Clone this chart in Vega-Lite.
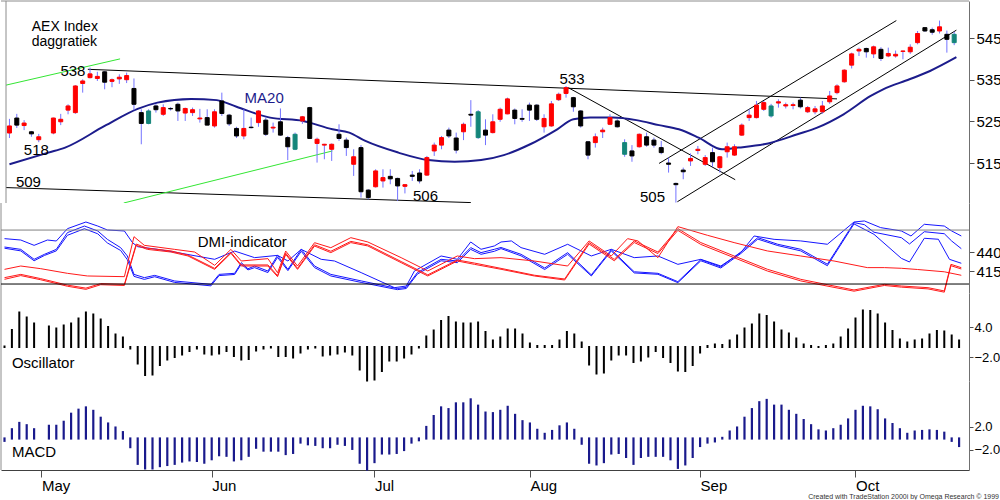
{
  "$schema": "https://vega.github.io/schema/vega-lite/v6.json",
  "description": "AEX Index daily candles with MA20, DMI, oscillator and MACD panels.",
  "padding": 0,
  "background": "white",
  "datasets": {
    "candles": [
      {"d":0,"o":522.2,"h":525.6,"l":521.0,"c":523.9,"dir":"up"},
      {"d":1,"o":525.8,"h":526.8,"l":523.4,"c":524.1,"dir":"down"},
      {"d":2,"o":524.0,"h":525.3,"l":522.9,"c":524.6,"dir":"up"},
      {"d":3,"o":522.5,"h":522.7,"l":521.3,"c":522.0,"dir":"down"},
      {"d":4,"o":520.6,"h":522.0,"l":520.0,"c":521.3,"dir":"up"},
      {"d":6,"o":522.2,"h":525.9,"l":521.9,"c":525.8,"dir":"up"},
      {"d":7,"o":524.9,"h":526.8,"l":524.1,"c":525.5,"dir":"up"},
      {"d":8,"o":527.7,"h":529.1,"l":526.7,"c":528.7,"dir":"up"},
      {"d":9,"o":527.1,"h":533.7,"l":526.8,"c":533.5,"dir":"up"},
      {"d":10,"o":534.1,"h":535.1,"l":531.9,"c":534.7,"dir":"up"},
      {"d":11,"o":535.5,"h":537.9,"l":535.3,"c":536.4,"dir":"up"},
      {"d":12,"o":535.3,"h":536.9,"l":534.7,"c":535.8,"dir":"up"},
      {"d":13,"o":536.9,"h":537.1,"l":532.7,"c":534.4,"dir":"down"},
      {"d":14,"o":534.6,"h":535.3,"l":533.2,"c":535.0,"dir":"up"},
      {"d":15,"o":535.2,"h":536.3,"l":534.0,"c":535.6,"dir":"up"},
      {"d":16,"o":535.0,"h":536.7,"l":534.2,"c":536.0,"dir":"up"},
      {"d":17,"o":532.9,"h":535.3,"l":527.7,"c":529.1,"dir":"down"},
      {"d":18,"o":527.1,"h":527.9,"l":519.5,"c":524.5,"dir":"down"},
      {"d":19,"o":524.5,"h":527.9,"l":524.3,"c":527.5,"dir":"sig"},
      {"d":20,"o":528.7,"h":529.1,"l":527.1,"c":527.8,"dir":"down"},
      {"d":21,"o":526.7,"h":529.1,"l":526.3,"c":528.3,"dir":"up"},
      {"d":22,"o":528.1,"h":528.4,"l":527.6,"c":528.0,"dir":"down"},
      {"d":23,"o":529.1,"h":529.5,"l":525.1,"c":527.5,"dir":"down"},
      {"d":24,"o":527.0,"h":528.3,"l":525.1,"c":528.1,"dir":"up"},
      {"d":25,"o":527.1,"h":528.3,"l":526.3,"c":527.8,"dir":"up"},
      {"d":26,"o":525.6,"h":528.0,"l":524.7,"c":525.8,"dir":"up"},
      {"d":27,"o":525.9,"h":527.9,"l":524.1,"c":524.1,"dir":"down"},
      {"d":28,"o":523.9,"h":527.9,"l":523.5,"c":527.3,"dir":"up"},
      {"d":29,"o":529.9,"h":531.9,"l":526.3,"c":526.9,"dir":"down"},
      {"d":30,"o":526.5,"h":526.8,"l":523.9,"c":524.4,"dir":"down"},
      {"d":31,"o":523.3,"h":523.7,"l":521.0,"c":521.5,"dir":"down"},
      {"d":32,"o":521.5,"h":527.9,"l":520.7,"c":523.3,"dir":"up"},
      {"d":33,"o":523.6,"h":525.9,"l":523.3,"c":523.5,"dir":"down"},
      {"d":34,"o":524.7,"h":527.7,"l":523.7,"c":527.5,"dir":"up"},
      {"d":35,"o":525.3,"h":525.9,"l":521.5,"c":521.9,"dir":"down"},
      {"d":36,"o":523.4,"h":524.7,"l":522.3,"c":523.6,"dir":"up"},
      {"d":37,"o":524.9,"h":528.1,"l":521.5,"c":521.7,"dir":"down"},
      {"d":38,"o":521.1,"h":521.5,"l":515.7,"c":518.9,"dir":"down"},
      {"d":39,"o":518.3,"h":522.3,"l":518.1,"c":521.9,"dir":"sig"},
      {"d":40,"o":525.1,"h":526.3,"l":524.4,"c":526.1,"dir":"up"},
      {"d":41,"o":528.3,"h":528.5,"l":520.8,"c":520.9,"dir":"down"},
      {"d":42,"o":519.7,"h":521.1,"l":515.1,"c":520.7,"dir":"up"},
      {"d":43,"o":519.3,"h":519.6,"l":515.9,"c":519.5,"dir":"up"},
      {"d":44,"o":518.3,"h":519.7,"l":515.5,"c":519.5,"dir":"up"},
      {"d":45,"o":521.9,"h":524.3,"l":520.3,"c":520.9,"dir":"down"},
      {"d":46,"o":520.5,"h":521.1,"l":516.7,"c":518.7,"dir":"down"},
      {"d":47,"o":514.7,"h":518.3,"l":511.9,"c":516.5,"dir":"up"},
      {"d":48,"o":518.7,"h":519.3,"l":506.7,"c":508.1,"dir":"down"},
      {"d":49,"o":508.5,"h":508.7,"l":506.3,"c":506.7,"dir":"down"},
      {"d":50,"o":509.3,"h":513.5,"l":509.1,"c":513.1,"dir":"up"},
      {"d":51,"o":510.7,"h":513.5,"l":509.1,"c":511.5,"dir":"up"},
      {"d":52,"o":511.8,"h":513.5,"l":509.9,"c":511.2,"dir":"down"},
      {"d":53,"o":511.3,"h":511.5,"l":505.9,"c":509.5,"dir":"down"},
      {"d":54,"o":509.4,"h":509.9,"l":507.7,"c":509.8,"dir":"up"},
      {"d":55,"o":512.1,"h":513.1,"l":510.7,"c":511.8,"dir":"down"},
      {"d":56,"o":512.6,"h":513.5,"l":510.1,"c":510.7,"dir":"down"},
      {"d":57,"o":512.1,"h":516.7,"l":511.9,"c":516.3,"dir":"up"},
      {"d":58,"o":517.9,"h":519.9,"l":516.7,"c":519.3,"dir":"up"},
      {"d":59,"o":519.3,"h":521.5,"l":518.3,"c":521.1,"dir":"up"},
      {"d":60,"o":522.9,"h":523.5,"l":521.0,"c":521.5,"dir":"down"},
      {"d":61,"o":521.0,"h":522.3,"l":517.3,"c":518.1,"dir":"down"},
      {"d":62,"o":522.5,"h":524.7,"l":520.5,"c":524.3,"dir":"up"},
      {"d":63,"o":526.7,"h":530.1,"l":523.7,"c":526.5,"dir":"down"},
      {"d":64,"o":521.1,"h":527.7,"l":520.8,"c":527.3,"dir":"sig"},
      {"d":65,"o":522.9,"h":525.5,"l":519.3,"c":521.7,"dir":"down"},
      {"d":66,"o":522.3,"h":526.7,"l":522.1,"c":524.9,"dir":"up"},
      {"d":67,"o":525.5,"h":528.3,"l":524.9,"c":527.9,"dir":"up"},
      {"d":68,"o":526.8,"h":530.7,"l":526.7,"c":530.4,"dir":"up"},
      {"d":69,"o":527.7,"h":528.1,"l":524.3,"c":525.7,"dir":"down"},
      {"d":70,"o":525.7,"h":527.9,"l":524.9,"c":525.5,"dir":"down"},
      {"d":71,"o":528.9,"h":529.5,"l":525.1,"c":527.7,"dir":"down"},
      {"d":72,"o":528.9,"h":529.1,"l":525.1,"c":525.5,"dir":"down"},
      {"d":73,"o":523.7,"h":526.7,"l":522.3,"c":525.7,"dir":"up"},
      {"d":74,"o":523.9,"h":529.9,"l":523.7,"c":529.2,"dir":"up"},
      {"d":75,"o":530.2,"h":531.9,"l":529.9,"c":531.5,"dir":"up"},
      {"d":76,"o":531.7,"h":533.5,"l":530.7,"c":533.1,"dir":"up"},
      {"d":77,"o":530.7,"h":530.9,"l":527.3,"c":528.5,"dir":"down"},
      {"d":78,"o":527.5,"h":527.7,"l":523.5,"c":523.9,"dir":"down"},
      {"d":79,"o":520.1,"h":520.3,"l":515.9,"c":516.9,"dir":"down"},
      {"d":80,"o":519.9,"h":522.1,"l":518.7,"c":521.3,"dir":"up"},
      {"d":81,"o":522.5,"h":523.5,"l":521.0,"c":522.9,"dir":"up"},
      {"d":82,"o":524.3,"h":526.7,"l":524.1,"c":525.9,"dir":"up"},
      {"d":83,"o":525.1,"h":525.5,"l":523.5,"c":523.7,"dir":"down"},
      {"d":84,"o":517.1,"h":520.7,"l":516.5,"c":519.9,"dir":"sig"},
      {"d":85,"o":517.9,"h":519.3,"l":515.3,"c":516.7,"dir":"down"},
      {"d":86,"o":518.9,"h":522.1,"l":518.7,"c":521.9,"dir":"up"},
      {"d":87,"o":521.3,"h":522.3,"l":518.9,"c":519.3,"dir":"down"},
      {"d":88,"o":520.5,"h":521.1,"l":518.7,"c":519.3,"dir":"down"},
      {"d":89,"o":518.7,"h":520.3,"l":517.1,"c":517.5,"dir":"down"},
      {"d":90,"o":515.0,"h":516.3,"l":512.7,"c":514.7,"dir":"down"},
      {"d":91,"o":510.1,"h":510.3,"l":505.5,"c":509.8,"dir":"down"},
      {"d":92,"o":513.3,"h":513.9,"l":511.1,"c":512.9,"dir":"down"},
      {"d":93,"o":515.5,"h":517.3,"l":514.3,"c":516.1,"dir":"up"},
      {"d":94,"o":518.0,"h":519.1,"l":517.1,"c":518.3,"dir":"up"},
      {"d":95,"o":514.7,"h":516.9,"l":514.3,"c":516.3,"dir":"up"},
      {"d":96,"o":517.5,"h":518.7,"l":514.1,"c":515.3,"dir":"down"},
      {"d":97,"o":513.9,"h":516.7,"l":512.7,"c":516.5,"dir":"up"},
      {"d":98,"o":517.7,"h":519.9,"l":516.3,"c":518.9,"dir":"up"},
      {"d":99,"o":516.9,"h":519.5,"l":516.7,"c":518.9,"dir":"up"},
      {"d":100,"o":521.7,"h":524.5,"l":521.5,"c":524.1,"dir":"up"},
      {"d":101,"o":525.9,"h":527.9,"l":525.1,"c":526.5,"dir":"up"},
      {"d":102,"o":525.9,"h":529.9,"l":525.7,"c":528.9,"dir":"up"},
      {"d":103,"o":527.9,"h":529.9,"l":527.5,"c":529.5,"dir":"up"},
      {"d":104,"o":526.3,"h":529.2,"l":525.9,"c":528.7,"dir":"sig"},
      {"d":105,"o":529.4,"h":530.3,"l":528.3,"c":529.7,"dir":"up"},
      {"d":106,"o":528.7,"h":529.5,"l":528.1,"c":529.0,"dir":"up"},
      {"d":107,"o":528.8,"h":529.5,"l":527.9,"c":529.0,"dir":"up"},
      {"d":108,"o":530.1,"h":530.7,"l":528.1,"c":528.5,"dir":"down"},
      {"d":109,"o":527.3,"h":528.7,"l":527.0,"c":528.3,"dir":"up"},
      {"d":110,"o":527.3,"h":528.7,"l":526.7,"c":528.0,"dir":"up"},
      {"d":111,"o":527.3,"h":529.9,"l":526.8,"c":528.7,"dir":"up"},
      {"d":112,"o":529.7,"h":532.3,"l":529.2,"c":531.1,"dir":"up"},
      {"d":113,"o":531.9,"h":533.9,"l":531.5,"c":533.5,"dir":"up"},
      {"d":114,"o":534.5,"h":537.5,"l":534.3,"c":537.3,"dir":"up"},
      {"d":115,"o":538.5,"h":541.5,"l":537.7,"c":541.2,"dir":"up"},
      {"d":116,"o":541.9,"h":542.7,"l":540.7,"c":542.3,"dir":"up"},
      {"d":117,"o":542.5,"h":542.7,"l":540.3,"c":541.7,"dir":"down"},
      {"d":118,"o":541.2,"h":543.2,"l":540.2,"c":542.9,"dir":"up"},
      {"d":119,"o":542.3,"h":542.8,"l":539.5,"c":540.1,"dir":"down"},
      {"d":120,"o":540.7,"h":542.7,"l":540.4,"c":541.3,"dir":"up"},
      {"d":121,"o":540.7,"h":542.0,"l":540.3,"c":541.1,"dir":"up"},
      {"d":122,"o":541.8,"h":542.0,"l":539.9,"c":541.9,"dir":"up"},
      {"d":123,"o":541.7,"h":543.5,"l":541.2,"c":542.8,"dir":"up"},
      {"d":124,"o":543.9,"h":546.7,"l":543.5,"c":546.1,"dir":"up"},
      {"d":125,"o":547.5,"h":547.6,"l":546.5,"c":546.7,"dir":"down"},
      {"d":126,"o":547.0,"h":547.5,"l":545.8,"c":546.4,"dir":"down"},
      {"d":127,"o":546.7,"h":549.2,"l":546.1,"c":547.7,"dir":"up"},
      {"d":128,"o":545.9,"h":546.8,"l":541.5,"c":544.7,"dir":"down"},
      {"d":129,"o":543.9,"h":546.5,"l":543.3,"c":545.9,"dir":"sig"}
    ],
    "ma": [
      {"d":0,"p":514.7},{"d":5.3,"p":517.5},{"d":7.6,"p":518.7},{"d":13.0,"p":523.9},
      {"d":17.5,"p":528.0},{"d":20.2,"p":529.5},{"d":24.8,"p":530.4},{"d":28.3,"p":530.1},
      {"d":31.0,"p":528.5},{"d":35.6,"p":525.9},{"d":40.1,"p":525.1},{"d":44.1,"p":523.1},
      {"d":46.4,"p":522.3},{"d":48.6,"p":520.3},{"d":53.1,"p":517.5},{"d":57.2,"p":515.7},
      {"d":60.8,"p":515.3},{"d":64.4,"p":515.7},{"d":67.5,"p":516.9},{"d":71.1,"p":519.5},
      {"d":74.8,"p":523.1},{"d":77.0,"p":525.5},{"d":79.3,"p":525.9},{"d":82.4,"p":525.9},
      {"d":85.6,"p":525.3},{"d":88.7,"p":524.1},{"d":91.4,"p":523.1},{"d":94.1,"p":521.1},
      {"d":97.3,"p":518.3},{"d":99.5,"p":518.7},{"d":103.6,"p":519.7},{"d":107.6,"p":521.9},
      {"d":110.3,"p":523.5},{"d":113.9,"p":526.7},{"d":117.6,"p":531.1},{"d":119.3,"p":532.7},
      {"d":122.9,"p":535.1},{"d":125.7,"p":537.1},{"d":129.3,"p":540.4}
    ],
    "trend": [
      {"id":"res","kind":"trend","d":10.7,"p":537.5},{"id":"res","kind":"trend","d":113.0,"p":530.4},
      {"id":"sup","kind":"trend","d":-0.47,"p":509.1},{"id":"sup","kind":"trend","d":63.0,"p":505.5},
      {"id":"g1","kind":"fan","d":-0.47,"p":533.7},{"id":"g1","kind":"fan","d":15.1,"p":540.0},
      {"id":"g2","kind":"fan","d":15.6,"p":505.4},{"id":"g2","kind":"fan","d":44.1,"p":517.9},
      {"id":"down","kind":"trend","d":76.3,"p":533.1},{"id":"down","kind":"trend","d":99.1,"p":511.0},
      {"id":"chLow","kind":"trend","d":91.2,"p":505.7},{"id":"chLow","kind":"trend","d":129.3,"p":546.9},
      {"id":"chUp","kind":"trend","d":88.7,"p":514.9},{"id":"chUp","kind":"trend","d":121.1,"p":549.2}
    ],
    "notes": [
      {"d":3.04,"p":546.7,"t":"AEX Index","fs":"head"},
      {"d":3.04,"p":543.1,"t":"daggratiek","fs":"head"},
      {"d":6.96,"p":535.9,"t":"538","fs":"note"},
      {"d":1.96,"p":517.0,"t":"518","fs":"note"},
      {"d":0.88,"p":509.3,"t":"509","fs":"note"},
      {"d":32.1,"p":529.3,"t":"MA20","fs":"note"},
      {"d":55.1,"p":505.9,"t":"506","fs":"note"},
      {"d":75.1,"p":534.0,"t":"533","fs":"note"},
      {"d":86.1,"p":505.6,"t":"505","fs":"note"}
    ],
    "dmi": [
      {"s":"b1","d":0,"v":457.6},{"s":"b1","d":2.2,"v":455.8},{"s":"b1","d":4,"v":448.8},{"s":"b1","d":5.8,"v":455.8},
      {"s":"b1","d":7,"v":454.5},{"s":"b1","d":8.5,"v":470.7},{"s":"b1","d":11,"v":479.5},{"s":"b1","d":12.6,"v":474.2},
      {"s":"b1","d":13.9,"v":469.0},{"s":"b1","d":16.2,"v":467.7},{"s":"b1","d":17.3,"v":452.3},{"s":"b1","d":18,"v":447.0},
      {"s":"b1","d":20.7,"v":443.5},{"s":"b1","d":23.4,"v":439.2},{"s":"b1","d":28.4,"v":430.4},{"s":"b1","d":31.1,"v":441.3},
      {"s":"b1","d":33.8,"v":432.6},{"s":"b1","d":36.9,"v":435.6},{"s":"b1","d":38.3,"v":428.2},{"s":"b1","d":40.1,"v":443.5},
      {"s":"b1","d":42.8,"v":430.4},{"s":"b1","d":44.6,"v":428.2},{"s":"b1","d":48.2,"v":412.9},{"s":"b1","d":52.7,"v":393.1},
      {"s":"b1","d":54.3,"v":395.3},{"s":"b1","d":55.4,"v":415.1},{"s":"b1","d":59,"v":434.8},{"s":"b1","d":61.2,"v":430.4},
      {"s":"b1","d":63,"v":453.2},{"s":"b1","d":64.4,"v":443.6},{"s":"b1","d":66.2,"v":448.0},{"s":"b1","d":67.1,"v":453.2},
      {"s":"b1","d":68.5,"v":454.6},{"s":"b1","d":69.8,"v":445.8},{"s":"b1","d":73,"v":437.0},{"s":"b1","d":76.1,"v":450.2},
      {"s":"b1","d":79.3,"v":434.8},{"s":"b1","d":82,"v":443.6},{"s":"b1","d":85.1,"v":432.6},{"s":"b1","d":88.3,"v":434.8},
      {"s":"b1","d":91,"v":423.8},{"s":"b1","d":94.1,"v":430.4},{"s":"b1","d":96.8,"v":421.6},{"s":"b1","d":99.5,"v":439.2},
      {"s":"b1","d":101.3,"v":461.1},{"s":"b1","d":104,"v":456.7},{"s":"b1","d":107.6,"v":454.6},{"s":"b1","d":111.2,"v":450.2},
      {"s":"b1","d":114.8,"v":479.5},{"s":"b1","d":116.2,"v":480.9},{"s":"b1","d":118.4,"v":472.1},{"s":"b1","d":121.2,"v":467.7},
      {"s":"b1","d":122.5,"v":461.1},{"s":"b1","d":124.3,"v":476.5},{"s":"b1","d":127,"v":474.2},{"s":"b1","d":128,"v":467.7},
      {"s":"b1","d":129.3,"v":461.1},

      {"s":"b2","d":0,"v":446.6},{"s":"b2","d":2.2,"v":443.5},{"s":"b2","d":4,"v":430.4},{"s":"b2","d":5.4,"v":437.0},
      {"s":"b2","d":7,"v":443.5},{"s":"b2","d":8.5,"v":465.5},{"s":"b2","d":10.8,"v":474.2},{"s":"b2","d":12.6,"v":467.7},
      {"s":"b2","d":13.9,"v":456.7},{"s":"b2","d":15.7,"v":445.7},{"s":"b2","d":16.6,"v":434.8},{"s":"b2","d":17.5,"v":410.6},
      {"s":"b2","d":18.9,"v":406.3},{"s":"b2","d":20.3,"v":409.3},{"s":"b2","d":23,"v":401.9},{"s":"b2","d":27.9,"v":397.5},
      {"s":"b2","d":29,"v":410.6},{"s":"b2","d":31.1,"v":412.0},{"s":"b2","d":32,"v":426.0},{"s":"b2","d":32.9,"v":418.0},
      {"s":"b2","d":33.8,"v":421.6},{"s":"b2","d":35.6,"v":415.0},{"s":"b2","d":36.9,"v":435.6},{"s":"b2","d":38.3,"v":417.2},
      {"s":"b2","d":40.1,"v":443.5},{"s":"b2","d":41.9,"v":421.6},{"s":"b2","d":44.1,"v":410.6},{"s":"b2","d":48.2,"v":402.0},
      {"s":"b2","d":53.1,"v":392.0},{"s":"b2","d":54.3,"v":393.5},{"s":"b2","d":55.8,"v":413.0},{"s":"b2","d":59,"v":430.4},
      {"s":"b2","d":61.2,"v":428.2},{"s":"b2","d":63,"v":445.8},{"s":"b2","d":64.4,"v":439.2},{"s":"b2","d":66.2,"v":443.6},
      {"s":"b2","d":67.1,"v":446.0},{"s":"b2","d":69.8,"v":437.0},{"s":"b2","d":73,"v":419.0},{"s":"b2","d":76.1,"v":439.2},
      {"s":"b2","d":79.3,"v":410.0},{"s":"b2","d":82,"v":443.0},{"s":"b2","d":85.1,"v":414.0},{"s":"b2","d":88.3,"v":412.0},
      {"s":"b2","d":91,"v":401.0},{"s":"b2","d":94.1,"v":430.0},{"s":"b2","d":96.8,"v":420.5},{"s":"b2","d":99.5,"v":440.0},
      {"s":"b2","d":101.8,"v":458.9},{"s":"b2","d":104.5,"v":450.2},{"s":"b2","d":107.6,"v":443.6},{"s":"b2","d":111.2,"v":424.0},
      {"s":"b2","d":114.8,"v":478.7},{"s":"b2","d":116.2,"v":476.0},{"s":"b2","d":117.5,"v":466.0},{"s":"b2","d":121.2,"v":458.9},
      {"s":"b2","d":122.3,"v":450.6},{"s":"b2","d":124.3,"v":466.7},{"s":"b2","d":127,"v":464.1},{"s":"b2","d":128,"v":454.5},
      {"s":"b2","d":129.3,"v":444.4},

      {"s":"b3","d":0,"v":445.0},{"s":"b3","d":2.2,"v":441.5},{"s":"b3","d":4,"v":428.5},{"s":"b3","d":5.4,"v":435.5},
      {"s":"b3","d":7,"v":441.5},{"s":"b3","d":8.5,"v":462.0},{"s":"b3","d":10.8,"v":470.7},{"s":"b3","d":12.6,"v":464.0},
      {"s":"b3","d":13.9,"v":452.0},{"s":"b3","d":15.7,"v":442.0},{"s":"b3","d":16.6,"v":430.0},{"s":"b3","d":17.5,"v":408.0},
      {"s":"b3","d":18.9,"v":404.0},{"s":"b3","d":20.3,"v":407.5},{"s":"b3","d":23,"v":400.0},{"s":"b3","d":27.9,"v":395.5},
      {"s":"b3","d":29,"v":409.0},{"s":"b3","d":31.1,"v":410.5},{"s":"b3","d":32,"v":424.0},{"s":"b3","d":32.9,"v":416.5},
      {"s":"b3","d":33.8,"v":419.5},{"s":"b3","d":35.6,"v":413.0},{"s":"b3","d":36.9,"v":433.0},{"s":"b3","d":38.3,"v":415.5},
      {"s":"b3","d":40.1,"v":441.0},{"s":"b3","d":41.9,"v":419.5},{"s":"b3","d":44.1,"v":408.5},{"s":"b3","d":48.2,"v":400.0},
      {"s":"b3","d":53.1,"v":390.5},{"s":"b3","d":54.3,"v":392.0},{"s":"b3","d":55.8,"v":411.0},{"s":"b3","d":59,"v":428.5},
      {"s":"b3","d":61.2,"v":426.0},{"s":"b3","d":63,"v":443.5},{"s":"b3","d":64.4,"v":437.0},{"s":"b3","d":66.2,"v":441.0},
      {"s":"b3","d":67.1,"v":444.5},{"s":"b3","d":69.8,"v":435.0},{"s":"b3","d":73,"v":417.0},{"s":"b3","d":76.1,"v":437.0},
      {"s":"b3","d":79.3,"v":408.5},{"s":"b3","d":82,"v":441.5},{"s":"b3","d":85.1,"v":412.5},{"s":"b3","d":88.3,"v":410.7},
      {"s":"b3","d":91,"v":399.7},{"s":"b3","d":94.1,"v":428.5},{"s":"b3","d":96.8,"v":419.0},{"s":"b3","d":99.5,"v":438.0},
      {"s":"b3","d":101.8,"v":457.0},{"s":"b3","d":104.5,"v":448.5},{"s":"b3","d":107.6,"v":441.5},{"s":"b3","d":111.2,"v":422.0},
      {"s":"b3","d":114.8,"v":477.0},{"s":"b3","d":117.5,"v":463.3},{"s":"b3","d":121.2,"v":431.7},{"s":"b3","d":122.3,"v":426.9},
      {"s":"b3","d":124.3,"v":458.1},{"s":"b3","d":126.2,"v":456.8},{"s":"b3","d":127.7,"v":430.4},{"s":"b3","d":129.3,"v":425.2},

      {"s":"r1","d":0,"v":417.2},{"s":"r1","d":2.2,"v":421.6},{"s":"r1","d":4.9,"v":418.1},{"s":"r1","d":8.5,"v":412.0},
      {"s":"r1","d":11.2,"v":408.5},{"s":"r1","d":16.2,"v":407.6},{"s":"r1","d":17.5,"v":460.2},{"s":"r1","d":18.9,"v":448.8},
      {"s":"r1","d":23,"v":443.5},{"s":"r1","d":25.7,"v":440.0},{"s":"r1","d":28.4,"v":422.5},{"s":"r1","d":30.6,"v":443.5},
      {"s":"r1","d":32,"v":428.2},{"s":"r1","d":35.6,"v":431.3},{"s":"r1","d":36.9,"v":412.8},{"s":"r1","d":38,"v":441.3},
      {"s":"r1","d":39.6,"v":421.6},{"s":"r1","d":41.9,"v":452.3},{"s":"r1","d":44.1,"v":445.7},{"s":"r1","d":46.8,"v":458.9},
      {"s":"r1","d":49.1,"v":453.2},{"s":"r1","d":53.6,"v":432.6},{"s":"r1","d":57.2,"v":415.1},{"s":"r1","d":61.2,"v":434.8},
      {"s":"r1","d":63.5,"v":431.3},{"s":"r1","d":67.1,"v":432.6},{"s":"r1","d":71.6,"v":428.2},{"s":"r1","d":76.1,"v":421.6},
      {"s":"r1","d":79,"v":454.6},{"s":"r1","d":82,"v":434.8},{"s":"r1","d":84.2,"v":457.6},{"s":"r1","d":85.6,"v":454.6},
      {"s":"r1","d":88.3,"v":432.6},{"s":"r1","d":91,"v":473.4},{"s":"r1","d":95,"v":462.0},{"s":"r1","d":98.6,"v":452.4},
      {"s":"r1","d":103.1,"v":441.4},{"s":"r1","d":107.6,"v":434.8},{"s":"r1","d":112.1,"v":428.2},{"s":"r1","d":116.6,"v":419.5},
      {"s":"r1","d":118.9,"v":419.5},{"s":"r1","d":121.2,"v":418.6},{"s":"r1","d":123.4,"v":417.0},{"s":"r1","d":127,"v":414.0},
      {"s":"r1","d":129.3,"v":409.4},

      {"s":"r2","d":0,"v":406.3},{"s":"r2","d":2.2,"v":410.6},{"s":"r2","d":4.9,"v":405.0},{"s":"r2","d":8.5,"v":396.5},
      {"s":"r2","d":11,"v":392.5},{"s":"r2","d":13,"v":398.5},{"s":"r2","d":16.2,"v":397.5},{"s":"r2","d":17.8,"v":450.5},
      {"s":"r2","d":19.3,"v":445.0},{"s":"r2","d":22.5,"v":441.5},{"s":"r2","d":24.8,"v":436.0},{"s":"r2","d":28.4,"v":418.5},
      {"s":"r2","d":30.6,"v":439.5},{"s":"r2","d":32,"v":423.0},{"s":"r2","d":35.6,"v":423.0},{"s":"r2","d":36.9,"v":409.0},
      {"s":"r2","d":38,"v":438.5},{"s":"r2","d":39.6,"v":418.5},{"s":"r2","d":41.9,"v":449.5},{"s":"r2","d":44.1,"v":441.0},
      {"s":"r2","d":46.8,"v":454.0},{"s":"r2","d":49.1,"v":449.5},{"s":"r2","d":53.6,"v":427.5},{"s":"r2","d":57.2,"v":410.0},
      {"s":"r2","d":61.2,"v":429.5},{"s":"r2","d":63.5,"v":425.5},{"s":"r2","d":67.1,"v":418.5},{"s":"r2","d":71.6,"v":409.5},
      {"s":"r2","d":75.7,"v":404.5},{"s":"r2","d":79,"v":452.4},{"s":"r2","d":82.4,"v":430.4},{"s":"r2","d":85.1,"v":454.6},
      {"s":"r2","d":88.3,"v":440.0},{"s":"r2","d":91,"v":470.8},{"s":"r2","d":94.1,"v":452.4},{"s":"r2","d":98.6,"v":434.8},
      {"s":"r2","d":103.1,"v":417.3},{"s":"r2","d":107.6,"v":404.1},{"s":"r2","d":112.1,"v":395.3},{"s":"r2","d":114.8,"v":390.1},
      {"s":"r2","d":118.9,"v":397.5},{"s":"r2","d":121.2,"v":395.3},{"s":"r2","d":124.8,"v":393.1},{"s":"r2","d":127,"v":388.8},
      {"s":"r2","d":127.9,"v":423.8},{"s":"r2","d":129.3,"v":419.4},

      {"s":"r3","d":0,"v":404.1},{"s":"r3","d":2.2,"v":409.0},{"s":"r3","d":4.9,"v":403.5},{"s":"r3","d":8.5,"v":395.0},
      {"s":"r3","d":11,"v":390.9},{"s":"r3","d":13,"v":397.0},{"s":"r3","d":16.2,"v":396.0},{"s":"r3","d":17.8,"v":448.8},
      {"s":"r3","d":19.3,"v":443.5},{"s":"r3","d":22.5,"v":440.0},{"s":"r3","d":24.8,"v":434.8},{"s":"r3","d":28.4,"v":417.2},
      {"s":"r3","d":30.6,"v":438.3},{"s":"r3","d":32,"v":421.6},{"s":"r3","d":35.6,"v":421.6},{"s":"r3","d":36.9,"v":407.6},
      {"s":"r3","d":38,"v":437.0},{"s":"r3","d":39.6,"v":417.2},{"s":"r3","d":41.9,"v":447.9},{"s":"r3","d":44.1,"v":439.2},
      {"s":"r3","d":46.8,"v":452.4},{"s":"r3","d":49.1,"v":448.0},{"s":"r3","d":53.6,"v":426.0},{"s":"r3","d":57.2,"v":408.5},
      {"s":"r3","d":61.2,"v":428.2},{"s":"r3","d":63.5,"v":423.8},{"s":"r3","d":67.1,"v":417.3},{"s":"r3","d":71.6,"v":408.5},
      {"s":"r3","d":75.7,"v":403.2},{"s":"r3","d":79,"v":450.5},{"s":"r3","d":82.4,"v":428.5},{"s":"r3","d":85.1,"v":452.5},
      {"s":"r3","d":88.3,"v":438.0},{"s":"r3","d":91,"v":468.5},{"s":"r3","d":94.1,"v":450.0},{"s":"r3","d":98.6,"v":432.5},
      {"s":"r3","d":103.1,"v":415.0},{"s":"r3","d":107.6,"v":402.0},{"s":"r3","d":112.1,"v":393.5},{"s":"r3","d":114.8,"v":388.5},
      {"s":"r3","d":118.9,"v":396.0},{"s":"r3","d":121.2,"v":393.8},{"s":"r3","d":124.8,"v":391.5},{"s":"r3","d":127,"v":387.2},
      {"s":"r3","d":127.9,"v":422.0},{"s":"r3","d":129.3,"v":417.7}
    ],
    "ind": [
      {"d":0,"osc":0.1,"macd":-0.4},{"d":1,"osc":3.4,"macd":1.6},{"d":2,"osc":6.9,"macd":2.7},{"d":3,"osc":5.9,"macd":2.3},
      {"d":4,"osc":4.7,"macd":1.6},{"d":6,"osc":4.1,"macd":2.2},{"d":7,"osc":3.7,"macd":2.2},{"d":8,"osc":4.3,"macd":2.9},
      {"d":9,"osc":4.7,"macd":4.3},{"d":10,"osc":5.7,"macd":5.0},{"d":11,"osc":6.9,"macd":5.4},{"d":12,"osc":6.5,"macd":4.8},
      {"d":13,"osc":5.5,"macd":3.6},{"d":14,"osc":4.0,"macd":2.6},{"d":15,"osc":2.5,"macd":1.9},{"d":16,"osc":1.9,"macd":1.1},
      {"d":17,"osc":-0.3,"macd":-1.5},{"d":18,"osc":-3.3,"macd":-4.4},{"d":19,"osc":-5.6,"macd":-5.2},{"d":20,"osc":-5.5,"macd":-5.2},
      {"d":21,"osc":-3.6,"macd":-4.8},{"d":22,"osc":-2.5,"macd":-4.6},{"d":23,"osc":-2.0,"macd":-4.4},{"d":24,"osc":-1.5,"macd":-4.0},
      {"d":25,"osc":-0.8,"macd":-3.8},{"d":26,"osc":-0.3,"macd":-3.9},{"d":27,"osc":-1.3,"macd":-4.2},{"d":28,"osc":-1.5,"macd":-3.6},
      {"d":29,"osc":-1.3,"macd":-2.9},{"d":30,"osc":-0.8,"macd":-3.0},{"d":31,"osc":-1.8,"macd":-3.8},{"d":32,"osc":-2.5,"macd":-3.6},
      {"d":33,"osc":-2.4,"macd":-3.0},{"d":34,"osc":-0.7,"macd":-1.6},{"d":35,"osc":-0.3,"macd":-2.1},{"d":36,"osc":-0.1,"macd":-2.1},
      {"d":37,"osc":-1.8,"macd":-2.1},{"d":38,"osc":-1.8,"macd":-2.7},{"d":39,"osc":-2.1,"macd":-2.5},{"d":40,"osc":-1.1,"macd":-0.7},
      {"d":41,"osc":-0.3,"macd":-1.0},{"d":42,"osc":-0.1,"macd":-1.1},{"d":43,"osc":-1.7,"macd":-1.5},{"d":44,"osc":-1.5,"macd":-1.5},
      {"d":45,"osc":-1.3,"macd":-0.9},{"d":46,"osc":-0.9,"macd":-1.1},{"d":47,"osc":-1.5,"macd":-1.8},{"d":48,"osc":-4.5,"macd":-4.2},
      {"d":49,"osc":-6.7,"macd":-5.4},{"d":50,"osc":-6.5,"macd":-4.1},{"d":51,"osc":-4.8,"macd":-2.6},{"d":52,"osc":-2.7,"macd":-2.6},
      {"d":53,"osc":-2.7,"macd":-2.5},{"d":54,"osc":-2.1,"macd":-2.0},{"d":55,"osc":-1.3,"macd":-0.7},{"d":56,"osc":-0.1,"macd":-0.3},
      {"d":57,"osc":2.1,"macd":2.0},{"d":58,"osc":3.3,"macd":3.9},{"d":59,"osc":5.2,"macd":5.4},{"d":60,"osc":6.0,"macd":5.1},
      {"d":61,"osc":4.9,"macd":6.1},{"d":62,"osc":4.7,"macd":6.1},{"d":63,"osc":4.7,"macd":6.8},{"d":64,"osc":4.9,"macd":5.7},
      {"d":65,"osc":3.0,"macd":4.5},{"d":66,"osc":1.3,"macd":4.4},{"d":67,"osc":1.9,"macd":4.8},{"d":68,"osc":3.5,"macd":5.5},
      {"d":69,"osc":3.5,"macd":4.1},{"d":70,"osc":2.5,"macd":3.0},{"d":71,"osc":0.7,"macd":2.6},{"d":72,"osc":0.2,"macd":1.5},
      {"d":73,"osc":0.2,"macd":0.8},{"d":74,"osc":0.2,"macd":1.3},{"d":75,"osc":1.3,"macd":2.1},{"d":76,"osc":3.0,"macd":2.6},
      {"d":77,"osc":2.5,"macd":1.5},{"d":78,"osc":0.9,"macd":-0.9},{"d":79,"osc":-3.5,"macd":-4.2},{"d":80,"osc":-5.3,"macd":-4.5},
      {"d":81,"osc":-5.1,"macd":-4.1},{"d":82,"osc":-2.5,"macd":-2.6},{"d":83,"osc":-1.5,"macd":-2.5},{"d":84,"osc":-1.5,"macd":-3.2},
      {"d":85,"osc":-3.0,"macd":-4.4},{"d":86,"osc":-2.7,"macd":-3.2},{"d":87,"osc":-1.9,"macd":-3.0},{"d":88,"osc":-0.8,"macd":-3.0},
      {"d":89,"osc":-2.0,"macd":-3.0},{"d":90,"osc":-3.0,"macd":-3.6},{"d":91,"osc":-4.7,"macd":-5.1},{"d":92,"osc":-4.8,"macd":-4.5},
      {"d":93,"osc":-3.6,"macd":-3.2},{"d":94,"osc":-1.1,"macd":-1.3},{"d":95,"osc":0.2,"macd":-0.7},{"d":96,"osc":0.5,"macd":-0.5},
      {"d":97,"osc":0.4,"macd":0.1},{"d":98,"osc":1.3,"macd":1.2},{"d":99,"osc":2.3,"macd":1.9},{"d":100,"osc":3.7,"macd":3.6},
      {"d":101,"osc":4.5,"macd":5.1},{"d":102,"osc":6.5,"macd":6.3},{"d":103,"osc":6.2,"macd":6.7},{"d":104,"osc":4.9,"macd":5.7},
      {"d":105,"osc":3.3,"macd":5.7},{"d":106,"osc":2.7,"macd":4.8},{"d":107,"osc":1.7,"macd":4.1},{"d":108,"osc":0.5,"macd":3.2},
      {"d":109,"osc":0.2,"macd":2.3},{"d":110,"osc":0.0,"macd":1.4},{"d":111,"osc":0.2,"macd":1.2},{"d":112,"osc":0.5,"macd":1.6},
      {"d":113,"osc":1.9,"macd":2.2},{"d":114,"osc":3.5,"macd":3.3},{"d":115,"osc":5.7,"macd":4.8},{"d":116,"osc":7.3,"macd":5.5},
      {"d":117,"osc":7.2,"macd":5.4},{"d":118,"osc":6.5,"macd":4.9},{"d":119,"osc":4.7,"macd":3.3},{"d":120,"osc":3.2,"macd":2.5},
      {"d":121,"osc":1.5,"macd":1.6},{"d":122,"osc":0.9,"macd":0.8},{"d":123,"osc":1.3,"macd":1.2},{"d":124,"osc":1.5,"macd":1.3},
      {"d":125,"osc":2.5,"macd":1.4},{"d":126,"osc":3.2,"macd":1.3},{"d":127,"osc":3.1,"macd":1.0},{"d":128,"osc":2.3,"macd":-0.4},
      {"d":129,"osc":1.3,"macd":-1.3}
    ]
  },
  "spacing": 0,
  "bounds": "flush",
  "resolve": {"scale": {"x": "independent", "y": "independent", "color": "independent"}},
  "vconcat": [
    {
      "width": 968,
      "height": 202,
      "layer": [
        {
          "data": {"name": "trend"},
          "mark": {"type": "line", "strokeWidth": 1, "clip": true},
          "encoding": {
            "x": {"field": "d", "type": "quantitative", "title": null, "scale": {"domain": [-0.473, 130.34], "nice": false, "zero": false}, "axis": null},
            "y": {"field": "p", "type": "quantitative", "title": null, "scale": {"domain": [505.4, 553.9], "nice": false, "zero": false},
                  "axis": {"orient": "right", "values": [515, 525, 535, 545], "format": "d"}},
            "detail": {"field": "id"},
            "color": {"condition": {"test": "datum.kind === 'fan'", "value": "#33e633"}, "value": "#000000"}
          }
        },
        {
          "data": {"values": [{"edge": "left"}]},
          "mark": {"type": "rule", "color": "#8c8c8c", "strokeWidth": 1},
          "encoding": {"x": {"datum": -0.473, "type": "quantitative", "scale": {"domain": [-0.473, 130.34], "nice": false, "zero": false}, "axis": null}}
        },
        {
          "data": {"values": [{"edge": "top"}]},
          "mark": {"type": "rule", "color": "#8c8c8c", "strokeWidth": 1},
          "encoding": {"y": {"datum": 553.9, "type": "quantitative", "title": null, "scale": {"domain": [505.4, 553.9], "nice": false, "zero": false}}}
        },
        {
          "data": {"name": "ma"},
          "mark": {"type": "line", "color": "#1c1c8c", "strokeWidth": 2, "interpolate": "monotone"},
          "encoding": {
            "x": {"field": "d", "type": "quantitative", "title": null, "scale": {"domain": [-0.473, 130.34], "nice": false, "zero": false}, "axis": null},
            "y": {"field": "p", "type": "quantitative", "title": null, "scale": {"domain": [505.4, 553.9], "nice": false, "zero": false}}
          }
        },
        {
          "data": {"name": "candles"},
          "mark": {"type": "rule", "color": "#7373ff", "strokeWidth": 1},
          "encoding": {
            "x": {"field": "d", "type": "quantitative", "title": null, "scale": {"domain": [-0.473, 130.34], "nice": false, "zero": false}, "axis": null},
            "y": {"field": "l", "type": "quantitative", "title": null, "scale": {"domain": [505.4, 553.9], "nice": false, "zero": false}},
            "y2": {"field": "h"}
          }
        },
        {
          "data": {"name": "candles"},
          "mark": {"type": "bar", "width": 4, "strokeWidth": 1},
          "encoding": {
            "x": {"field": "d", "type": "quantitative", "title": null, "scale": {"domain": [-0.473, 130.34], "nice": false, "zero": false}, "axis": null},
            "y": {"field": "o", "type": "quantitative", "title": null, "scale": {"domain": [505.4, 553.9], "nice": false, "zero": false}},
            "y2": {"field": "c"},
            "color": {"condition": [{"test": "datum.dir === 'sig'", "value": "#14857a"}, {"test": "datum.dir === 'up'", "value": "#ff0000"}], "value": "#000000"},
            "stroke": {"condition": [{"test": "datum.dir === 'sig'", "value": "#14857a"}, {"test": "datum.dir === 'up'", "value": "#ff0000"}], "value": "#000000"}
          }
        },
        {
          "data": {"name": "notes"},
          "mark": {"type": "text", "align": "left", "baseline": "alphabetic"},
          "encoding": {
            "x": {"field": "d", "type": "quantitative", "title": null, "scale": {"domain": [-0.473, 130.34], "nice": false, "zero": false}, "axis": null},
            "y": {"field": "p", "type": "quantitative", "title": null, "scale": {"domain": [505.4, 553.9], "nice": false, "zero": false}},
            "text": {"field": "t"},
            "size": {"condition": {"test": "datum.fs === 'head'", "value": 14}, "value": 15},
            "color": {"condition": {"test": "datum.t === 'MA20'", "value": "#1c1c8c"}, "value": "#000000"}
          }
        }
      ]
    },
    {
      "width": 968,
      "height": 90,
      "layer": [
        {
          "data": {"name": "dmi"},
          "mark": {"type": "line", "strokeWidth": 1, "clip": true},
          "encoding": {
            "x": {"field": "d", "type": "quantitative", "title": null, "scale": {"domain": [-0.473, 130.34], "nice": false, "zero": false}, "axis": null},
            "y": {"field": "v", "type": "quantitative", "title": null, "scale": {"domain": [386.1, 504.5], "nice": false, "zero": false},
                  "axis": {"orient": "right", "values": [415, 440], "format": "d"}},
            "color": {"field": "s", "type": "nominal", "scale": {"domain": ["b1", "b2", "b3", "r1", "r2", "r3"], "range": ["#1515ff", "#1515ff", "#1515ff", "#ff1a1a", "#ff1a1a", "#ff1a1a"]}, "legend": null}
          }
        },
        {
          "data": {"values": [{"edge": "left"}]},
          "mark": {"type": "rule", "color": "#8c8c8c", "strokeWidth": 1},
          "encoding": {"x": {"datum": -0.473, "type": "quantitative", "scale": {"domain": [-0.473, 130.34], "nice": false, "zero": false}, "axis": null}}
        },
        {
          "data": {"values": [{"level": "upper"}]},
          "mark": {"type": "rule", "color": "#808080", "strokeWidth": 1},
          "encoding": {"y": {"datum": 468.9, "type": "quantitative", "title": null, "scale": {"domain": [386.1, 504.5], "nice": false, "zero": false}}}
        },
        {
          "data": {"values": [{"level": "lower"}]},
          "mark": {"type": "rule", "color": "#000000", "strokeWidth": 1},
          "encoding": {"y": {"datum": 397.9, "type": "quantitative", "title": null, "scale": {"domain": [386.1, 504.5], "nice": false, "zero": false}}}
        },
        {
          "data": {"values": [{"d": 26.1, "v": 447.0, "t": "DMI-indicator"}]},
          "mark": {"type": "text", "align": "left", "baseline": "alphabetic", "fontSize": 15, "color": "#000000"},
          "encoding": {
            "x": {"field": "d", "type": "quantitative", "title": null, "scale": {"domain": [-0.473, 130.34], "nice": false, "zero": false}, "axis": null},
            "y": {"field": "v", "type": "quantitative", "title": null, "scale": {"domain": [386.1, 504.5], "nice": false, "zero": false}},
            "text": {"field": "t"}
          }
        }
      ]
    },
    {
      "width": 968,
      "height": 88,
      "layer": [
        {
          "data": {"name": "ind"},
          "mark": {"type": "rule", "color": "#000000", "strokeWidth": 2, "strokeCap": "square"},
          "encoding": {
            "x": {"field": "d", "type": "quantitative", "title": null, "scale": {"domain": [-0.473, 130.34], "nice": false, "zero": false}, "axis": null},
            "y": {"field": "osc", "type": "quantitative", "title": null, "scale": {"domain": [-6.8, 10.8], "nice": false, "zero": false},
                  "axis": {"orient": "right", "values": [4, -2], "format": ".1f", "labelFontSize": 13, "tickSize": 4, "labelPadding": 1}},
            "y2": {"datum": 0}
          }
        },
        {
          "data": {"values": [{"edge": "left"}]},
          "mark": {"type": "rule", "color": "#8c8c8c", "strokeWidth": 1},
          "encoding": {"x": {"datum": -0.473, "type": "quantitative", "scale": {"domain": [-0.473, 130.34], "nice": false, "zero": false}, "axis": null}}
        },
        {
          "data": {"values": [{"d": 1.0, "v": -4.26, "t": "Oscillator"}]},
          "mark": {"type": "text", "align": "left", "baseline": "alphabetic", "fontSize": 15, "color": "#000000"},
          "encoding": {
            "x": {"field": "d", "type": "quantitative", "title": null, "scale": {"domain": [-0.473, 130.34], "nice": false, "zero": false}, "axis": null},
            "y": {"field": "v", "type": "quantitative", "title": null, "scale": {"domain": [-6.8, 10.8], "nice": false, "zero": false}},
            "text": {"field": "t"}
          }
        }
      ]
    },
    {
      "width": 968,
      "height": 89,
      "title": {"text": "Created with TradeStation 2000i by Omega Research © 1999", "orient": "bottom", "anchor": "end", "frame": "group", "dx": 30, "fontSize": 7, "fontWeight": "normal", "color": "#333333", "offset": 0},
      "layer": [
        {
          "data": {"name": "ind"},
          "mark": {"type": "rule", "color": "#1a1a8c", "strokeWidth": 2.2, "strokeCap": "square"},
          "encoding": {
            "x": {"field": "d", "type": "quantitative", "title": null, "scale": {"domain": [-0.473, 130.34], "nice": false, "zero": false},
                  "axis": {"orient": "bottom", "values": [5, 28, 50, 71, 94, 115],
                           "labelExpr": "datum.value == 5 ? 'May' : datum.value == 28 ? 'Jun' : datum.value == 50 ? 'Jul' : datum.value == 71 ? 'Aug' : datum.value == 94 ? 'Sep' : 'Oct'",
                           "labelAlign": "left", "labelFlush": false, "labelOverlap": false, "tickSize": 7, "labelPadding": 1, "domainColor": "#404040"}},
            "y": {"field": "macd", "type": "quantitative", "title": null, "scale": {"domain": [-5.48, 10.0], "nice": false, "zero": false},
                  "axis": {"orient": "right", "values": [2, -2], "format": ".1f", "labelFontSize": 13, "tickSize": 4, "labelPadding": 1}},
            "y2": {"datum": 0}
          }
        },
        {
          "data": {"values": [{"edge": "left"}]},
          "mark": {"type": "rule", "color": "#8c8c8c", "strokeWidth": 1},
          "encoding": {"x": {"datum": -0.473, "type": "quantitative", "title": null, "scale": {"domain": [-0.473, 130.34], "nice": false, "zero": false}}}
        },
        {
          "data": {"values": [{"d": 1.0, "v": -3.17, "t": "MACD"}]},
          "mark": {"type": "text", "align": "left", "baseline": "alphabetic", "fontSize": 15, "color": "#000000"},
          "encoding": {
            "x": {"field": "d", "type": "quantitative", "title": null, "scale": {"domain": [-0.473, 130.34], "nice": false, "zero": false}},
            "y": {"field": "v", "type": "quantitative", "title": null, "scale": {"domain": [-5.48, 10.0], "nice": false, "zero": false}},
            "text": {"field": "t"}
          }
        }
      ]
    }
  ],
  "config": {
    "view": {"stroke": null},
    "font": "Liberation Sans",
    "text": {"font": "Liberation Sans"},
    "axis": {
      "grid": false,
      "domainColor": "#707070",
      "tickColor": "#505050",
      "tickSize": 5,
      "labelFont": "Liberation Sans",
      "labelFontSize": 15,
      "labelColor": "#000000",
      "labelPadding": 2
    },
    "title": {"font": "Liberation Sans"}
  }
}
